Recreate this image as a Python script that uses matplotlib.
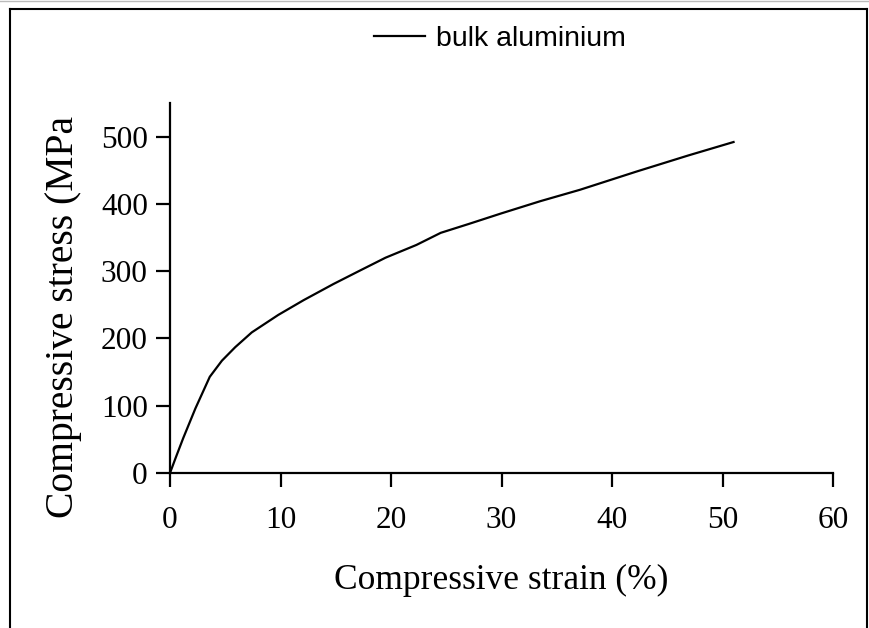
import matplotlib
matplotlib.use("Agg")
import matplotlib.pyplot as plt
from matplotlib.lines import Line2D

strain = [0, 0.5, 1.2, 2.3, 3.6, 4.7, 5.9, 7.4, 9.8, 12.1, 14.8, 17.2, 19.5,
          22.3, 24.5, 27.0, 30.0, 33.5, 37.1, 42.2, 46.9, 51.0]
stress = [0, 22, 52, 96, 143, 167, 187, 209, 235, 257, 281, 301, 320,
          339, 357, 370, 386, 404, 421, 448, 472, 492]
series_name = "bulk aluminium"
xticks = [0, 10, 20, 30, 40, 50, 60]
yticks = [0, 100, 200, 300, 400, 500]

W, H = 869, 628
fig = plt.figure(figsize=(W / 100, H / 100), dpi=100)
fig.patch.set_facecolor("white")

ax = fig.add_axes([170 / W, 1 - 473 / H, (833 - 170) / W, (473 - 103) / H])
line, = ax.plot(strain, stress, color="black", lw=1.6, label=series_name)
ax.set_xlim(0, 60)
ax.set_ylim(0, 550)
ax.set_xticks(xticks)
ax.set_yticks(yticks)
for s in ["top", "right"]:
    ax.spines[s].set_visible(False)
for s in ["left", "bottom"]:
    ax.spines[s].set_linewidth(1.6)
ax.tick_params(direction="out", length=10, width=1.6, labelsize=22.5)
ax.tick_params(axis="y", pad=6)
ax.tick_params(axis="x", pad=14)
for lab in ax.get_xticklabels() + ax.get_yticklabels():
    lab.set_fontfamily("Liberation Serif")

fig.text(501 / W, 1 - 580 / H, "Compressive strain (%)", ha="center", va="center",
         fontsize=25.5, family="Liberation Serif")
fig.text(64 / W, 1 - 317 / H, "Compressive stress (MPa", ha="center", va="center",
         rotation=90, fontsize=28.5, family="Liberation Serif")

fig.legend(handles=[line], loc="center", bbox_to_anchor=(500 / W, 1 - 39 / H),
           frameon=False, prop={"family": "Liberation Sans", "size": 20.5},
           handlelength=1.8, handletextpad=0.38, borderpad=0)

# figure frame
kw = dict(transform=fig.transFigure, color="black", lw=1.5)
fig.lines.append(Line2D([10 / W, 867 / W], [1 - 9 / H, 1 - 9 / H], **kw))
fig.lines.append(Line2D([10 / W, 10 / W], [1 - 9 / H, 0], **kw))
fig.lines.append(Line2D([867 / W, 867 / W], [1 - 9 / H, 0], **kw))
fig.lines.append(Line2D([0, 1], [1 - 0.5 / H, 1 - 0.5 / H], transform=fig.transFigure,
                        color="#bbbbbb", lw=1))

fig.savefig("out.png", dpi=100)
